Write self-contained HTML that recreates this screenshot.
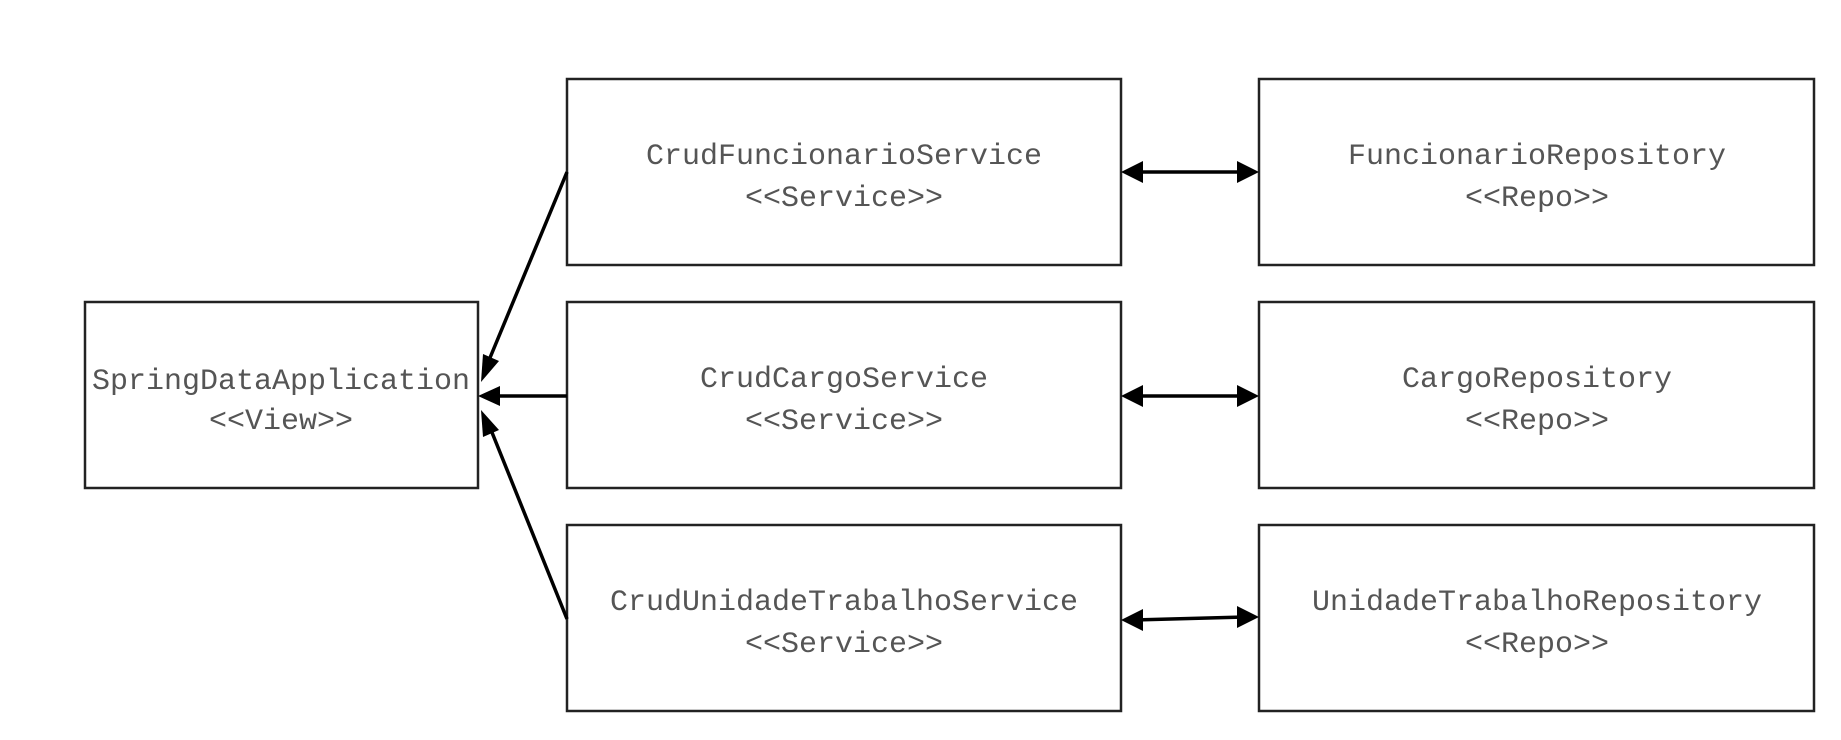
<!DOCTYPE html>
<html><head><style>
html,body{margin:0;padding:0;background:#fff;}
</style></head><body>
<svg width="1841" height="735" viewBox="0 0 1841 735" xmlns="http://www.w3.org/2000/svg">
<g fill="#fff" stroke="#222" stroke-width="2.5">
<rect x="85" y="302" width="393" height="186"/>
<rect x="567" y="79" width="554" height="186"/>
<rect x="567" y="302" width="554" height="186"/>
<rect x="567" y="525" width="554" height="186"/>
<rect x="1259" y="79" width="555" height="186"/>
<rect x="1259" y="302" width="555" height="186"/>
<rect x="1259" y="525" width="555" height="186"/>
</g>
<g stroke="#000" stroke-width="3.5" fill="none">
<line x1="567" y1="172" x2="487" y2="365"/>
<line x1="567" y1="396" x2="495" y2="396"/>
<line x1="567" y1="619" x2="487" y2="420"/>
<line x1="1135" y1="172" x2="1245" y2="172"/>
<line x1="1135" y1="396" x2="1245" y2="396"/>
<line x1="1135" y1="620" x2="1245" y2="617"/>
</g>
<g fill="#000">
<polygon points="481,382 483,354 499,361"/>
<polygon points="478,396 500,386 500,406"/>
<polygon points="481,410 499,430 483,437"/>
<polygon points="1121,172 1143,161 1143,183"/>
<polygon points="1259,172 1237,161 1237,183"/>
<polygon points="1121,396 1143,385 1143,407"/>
<polygon points="1259,396 1237,385 1237,407"/>
<polygon points="1121,620 1143,609 1143,631"/>
<polygon points="1259,617 1237,606 1237,628"/>
</g>
<g font-family="Liberation Mono, monospace" font-size="30" fill="#555" text-anchor="middle">
<text x="281" y="389">SpringDataApplication</text><text x="281" y="429">&lt;&lt;View&gt;&gt;</text>
<text x="844" y="164">CrudFuncionarioService</text><text x="844" y="206">&lt;&lt;Service&gt;&gt;</text>
<text x="844" y="387">CrudCargoService</text><text x="844" y="429">&lt;&lt;Service&gt;&gt;</text>
<text x="844" y="610">CrudUnidadeTrabalhoService</text><text x="844" y="652">&lt;&lt;Service&gt;&gt;</text>
<text x="1537" y="164">FuncionarioRepository</text><text x="1537" y="206">&lt;&lt;Repo&gt;&gt;</text>
<text x="1537" y="387">CargoRepository</text><text x="1537" y="429">&lt;&lt;Repo&gt;&gt;</text>
<text x="1537" y="610">UnidadeTrabalhoRepository</text><text x="1537" y="652">&lt;&lt;Repo&gt;&gt;</text>
</g>
</svg>
</body></html>
